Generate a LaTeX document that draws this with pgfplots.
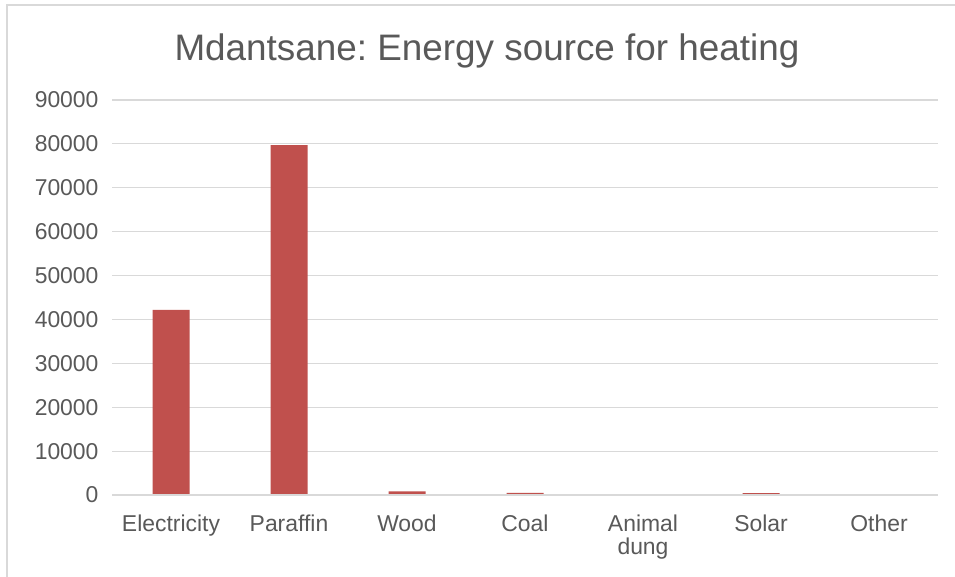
\documentclass[border=0pt]{standalone}
\usepackage{pgfplots}
\pgfplotsset{compat=1.18}
\usepackage{fontspec}
\setmainfont{Liberation Sans}
\frenchspacing
\definecolor{barred}{RGB}{192,80,77}
\definecolor{gridgray}{RGB}{217,217,217}
\definecolor{textgray}{RGB}{89,89,89}
\begin{document}
\begin{tikzpicture}
\clip (0,0) rectangle (955bp,577bp);
\fill[white] (0,0) rectangle (955bp,577bp);
\draw[gridgray, line width=1.2bp] (7bp,-10bp) rectangle (970bp,572bp);
\node[text=textgray, font=\fontsize{37}{44}\selectfont] at (487bp,526bp) {Mdantsane: Energy source for heating};
\begin{axis}[
  at={(112bp,82bp)}, anchor=south west,
  scale only axis, width=826bp, height=395bp,
  xmin=-0.5, xmax=6.5, ymin=0, ymax=90000,
  ytick={0,10000,...,90000},
  xtick={0,...,6},
  xticklabels={Electricity,Paraffin,Wood,Coal,{Animal\\dung},Solar,Other},
  xticklabel style={align=center, text=textgray, font=\fontsize{23}{23}\selectfont, yshift=-16bp},
  yticklabel style={text=textgray, font=\fontsize{23}{26}\selectfont, xshift=-10bp},
  /pgf/number format/assume math mode=true,
  scaled y ticks=false,
  yticklabel={\pgfmathprintnumber[fixed,1000 sep={}]{\tick}},
  major tick length=0pt,
  ymajorgrids, grid style={gridgray, line width=1.2bp},
  axis line style={draw=none},
  axis x line*=bottom, axis y line*=left,
  ybar, bar width=37bp,
]
\addplot[fill=barred, draw=none] coordinates {
  (0,42200) (1,79700) (2,850) (3,500) (4,150) (5,400) (6,40)
};
\draw[gridgray, line width=1.2bp] (axis cs:-0.5,0) -- (axis cs:6.5,0);
\end{axis}
\end{tikzpicture}
\end{document}
